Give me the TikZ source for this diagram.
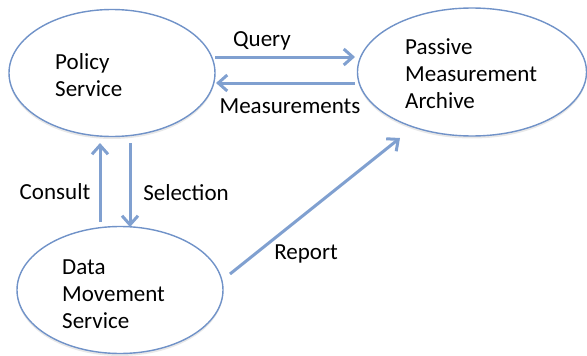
\documentclass[tikz,border=0pt]{standalone}
\usepackage{fontspec}
\setmainfont{Carlito}
\usetikzlibrary{shapes.geometric,arrows.meta,shadows}
\definecolor{ellline}{RGB}{112,146,200}
\definecolor{arrline}{RGB}{128,160,208}
\begin{document}
\begin{tikzpicture}[x=1pt,y=-1pt,
  blob/.style={ellipse, draw=ellline, line width=1.4pt, fill=white, inner sep=0pt,
    drop shadow={opacity=0.18, shadow xshift=0pt, shadow yshift=-2.5pt}},
  lbl/.style={font=\fontsize{23}{27}\selectfont, text=black, inner sep=0pt},
  blk/.style={font=\fontsize{23}{27}\selectfont, text=black, align=left, inner sep=0pt, anchor=west},
  flow/.style={draw=arrline, line width=3pt, -{Straight Barb[length=9pt, width=16pt, line width=3pt]}}]
\useasboundingbox (0,0) rectangle (587,356);
\node[blob, minimum width=206pt, minimum height=127pt] (policy) at (112,73) {};
\node[blob, minimum width=229pt, minimum height=128pt] (pma) at (472,72) {};
\node[blob, minimum width=206pt, minimum height=127pt] (dms) at (120,290) {};
\node[blk] (policyt) at (55,75) {Policy\\Service};
\node[blk] (pmat) at (405,74) {Passive\\Measurement\\Archive};
\node[blk] (dmst) at (62,294) {Data\\Movement\\Service};
\coordinate (q1) at (215,57);
\coordinate (q2) at (355,57);
\coordinate (m1) at (355,83);
\coordinate (m2) at (216,83);
\coordinate (c1) at (100,222);
\coordinate (c2) at (100,143);
\coordinate (s1) at (130,143);
\coordinate (s2) at (130,227);
\coordinate (r1) at (230,274);
\coordinate (r2) at (400,138);
\draw[flow] (q1) -- (q2);
\draw[flow] (m1) -- (m2);
\draw[flow] (c1) -- (c2);
\draw[flow] (s1) -- (s2);
\draw[flow] (r1) -- (r2);
\node[lbl] (ql) at (262,41) {Query};
\node[lbl] (ml) at (290,106) {Measurements};
\node[lbl] (cl) at (55,192) {Consult};
\node[lbl] (sl) at (186,193) {Selection};
\node[lbl] (rl) at (306,254) {Report};
\end{tikzpicture}
\end{document}
